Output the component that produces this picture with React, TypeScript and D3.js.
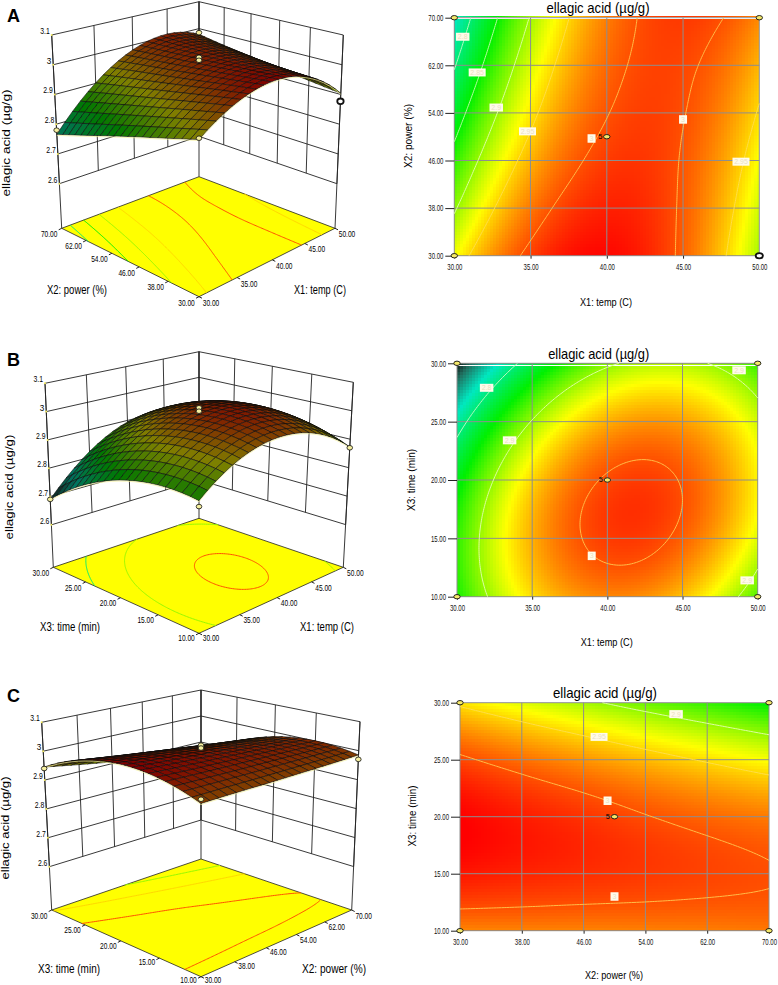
import React, {useEffect, useRef} from 'react';
import * as d3 from "d3";

const tempTicks = [30, 35, 40, 45, 50];
const powerTicks = [30, 38, 46, 54, 62, 70];
const timeTicks = [10, 15, 20, 25, 30];
const zTicks = [2.6, 2.7, 2.8, 2.9, 3, 3.1];

// response at the tick crossings, one row per y tick
const responseTempPower = [
    [2.931, 3.007, 3.028, 2.994, 2.904],
    [2.896, 2.985, 3.018, 2.996, 2.918],
    [2.863, 2.963, 3.008, 2.998, 2.932],
    [2.830, 2.942, 2.999, 3.001, 2.947],
    [2.797, 2.922, 2.991, 3.004, 2.962],
    [2.766, 2.902, 2.983, 3.009, 2.979],
];
const responseTempTime = [
    [2.856, 2.947, 2.980, 2.956, 2.873],
    [2.864, 2.965, 3.008, 2.993, 2.921],
    [2.839, 2.950, 3.003, 2.998, 2.935],
    [2.781, 2.902, 2.965, 2.970, 2.917],
    [2.690, 2.821, 2.894, 2.908, 2.865],
];
const responsePowerTime = [
    [2.980, 2.981, 2.981, 2.982, 2.983, 2.985],
    [3.022, 3.017, 3.013, 3.009, 3.005, 3.001],
    [3.030, 3.020, 3.011, 3.001, 2.992, 2.984],
    [3.004, 2.989, 2.975, 2.961, 2.947, 2.933],
    [2.945, 2.925, 2.906, 2.886, 2.867, 2.848],
];

const levelsA = [2.8, 2.85, 2.9, 2.95, 3];
const levelsB = [2.8, 2.9, 3];
const levelsC = [2.9, 2.95, 3];

// contour label boxes: text, x, y
const labelsA = [["2.8", 30.55, 66.8], ["2.85", 31.5, 60.8], ["2.9", 32.75, 54.9], ["2.95", 34.8, 50.9], ["3", 39, 49.7], ["3", 45, 52.9], ["2.95", 48.8, 45.8]];
const labelsB = [["2.8", 31.97, 27.9], ["2.9", 33.5, 23.4], ["3", 38.96, 13.5], ["2.9", 48.76, 29.4], ["2.9", 49.3, 11.4]];
const labelsC = [["2.9", 57.97, 29], ["2.95", 48, 27], ["3", 49.1, 21.4], ["3", 50, 13]];

// design points that show on the 3D views: x, y, response, bold
const pointsA = [[30, 70, 2.78], [50, 70, 2.985], [50, 30, 2.877, 1], [30, 30, 2.935], [40, 50, 3.025], [40, 50, 3.015]];
const pointsB = [[30, 30, 2.69], [50, 10, 2.87], [30, 10, 2.838], [40, 20, 3.012], [40, 20, 3.0]];
const pointsC = [[30, 30, 2.94], [70, 10, 2.97], [30, 10, 2.993], [50, 20, 3.02], [50, 20, 3.01]];

const colorValues = [2.69, 2.72, 2.77, 2.85, 2.935, 3.03];
const colorStops = ["#101010", "#207060", "#00e8c0", "#00f000", "#ffff00", "#ff0000"];

const narrow = '"Liberation Sans", Arial, sans-serif';
const regular = '"Liberation Sans", Arial, sans-serif';

const heat = d3.scaleLinear<string>().domain(colorValues).range(colorStops).clamp(true);

const panels = [
    {
        letter: "A", letterY: 22, xTicks: tempTicks, yTicks: powerTicks, grid: responseTempPower,
        levels: levelsA, labels: labelsA, points: pointsA, xName: "X1: temp (C)", yName: "X2: power (%)",
        floor: [[199, 296.7], [335, 228.3], [199, 176.7], [61.7, 228.3]],
        top: [[199, 84.3], [343.3, 35], [199, 1.7], [51.7, 35]],
        zLabel: [7, 143, 107], yNameAt: [77, 290, 60], xNameAt: [320, 290, 52], frontDy: 6,
        plot: {left: 454.3, right: 759.3, top: 17.7, bottom: 255.7},
        titleAt: [598, 8, 103], xNameFlat: [606, 302, 52], yNameFlat: [409, 136, 64], bold: [50, 30],
    },
    {
        letter: "B", letterY: 366, xTicks: tempTicks, yTicks: timeTicks, grid: responseTempTime,
        levels: levelsB, labels: labelsB, points: pointsB, xName: "X1: temp (C)", yName: "X3: time (min)",
        floor: [[199, 633.3], [343.3, 567.3], [199, 518.3], [53.3, 567.3]],
        top: [[199, 421], [353.3, 382.3], [199, 351.7], [45, 383.3]],
        zLabel: [10, 487, 105], yNameAt: [70, 627, 60], xNameAt: [327, 627, 54], frontDy: 5,
        plot: {left: 457, right: 757.7, top: 363.3, bottom: 596.7},
        titleAt: [598.7, 353.5, 101], xNameFlat: [606.7, 641.5, 52], yNameFlat: [412, 480, 62], bold: null,
    },
    {
        letter: "C", letterY: 702, xTicks: powerTicks, yTicks: timeTicks, grid: responsePowerTime,
        levels: levelsC, labels: labelsC, points: pointsC, xName: "X2: power (%)", yName: "X3: time (min)",
        floor: [[201, 976.7], [351.7, 910], [201, 859], [51.7, 910]],
        top: [[201, 764.3], [360, 721.7], [201, 690], [41.7, 722.3]],
        zLabel: [6, 828, 103], yNameAt: [69, 969, 62], xNameAt: [334, 969, 64], frontDy: 3.5,
        plot: {left: 460, right: 769, top: 702.7, bottom: 930.7},
        titleAt: [605, 693.3, 104], xNameFlat: [614, 975, 58], yNameFlat: [413, 816, 61], bold: null,
    },
];

// unit square -> quad, corners in order (0,0) (1,0) (1,1) (0,1)
function squareToQuad(q) {
    const [[x0, y0], [x1, y1], [x2, y2], [x3, y3]] = q;
    const dx1 = x1 - x2, dx2 = x3 - x2, sx = x0 - x1 + x2 - x3;
    const dy1 = y1 - y2, dy2 = y3 - y2, sy = y0 - y1 + y2 - y3;
    const den = dx1 * dy2 - dx2 * dy1;
    const g = (sx * dy2 - dx2 * sy) / den, h = (dx1 * sy - sx * dy1) / den;
    const a = x1 - x0 + g * x1, b = x3 - x0 + h * x3, d = y1 - y0 + g * y1, e = y3 - y0 + h * y3;
    return (u, v) => {
        const w = g * u + h * v + 1;
        return [(a * u + b * v + x0) / w, (d * u + e * v + y0) / w];
    };
}

// smooth resampling between the values read at the ticks, for drawing only
function catmull(vals, s) {
    const n = vals.length;
    const ext = [3 * vals[0] - 3 * vals[1] + vals[2], ...vals, 3 * vals[n - 1] - 3 * vals[n - 2] + vals[n - 3]];
    const i = Math.min(Math.floor(s), n - 2), t = s - i;
    const [p0, p1, p2, p3] = ext.slice(i, i + 4);
    return 0.5 * (2 * p1 + (p2 - p0) * t + (2 * p0 - 5 * p1 + 4 * p2 - p3) * t * t + (3 * p1 - p0 - 3 * p2 + p3) * t * t * t);
}

function surfaceAt(grid, u, v) {
    const col = grid.map(row => catmull(row, u * (row.length - 1)));
    return catmull(col, v * (grid.length - 1));
}

// open polylines of the contour lines, in 0..1 coordinates
function contourLines(grid, levels) {
    const n = 120;
    const values = [];
    for (let j = 0; j < n; j++) for (let i = 0; i < n; i++) values.push(surfaceAt(grid, i / (n - 1), j / (n - 1)));
    const out = [];
    d3.contours().size([n, n]).thresholds(levels)(values).forEach(c => {
        c.coordinates.forEach(poly => poly.forEach(ring => {
            const edge = p => p[0] <= 0 || p[0] >= n || p[1] <= 0 || p[1] >= n;
            let pts = ring.slice(0, -1);
            const k = pts.findIndex(edge);
            if (k >= 0) pts = [...pts.slice(k), ...pts.slice(0, k)];
            else pts = ring;
            let run = [];
            const flush = () => {
                if (run.length > 1) out.push({level: c.value, pts: run.map(p => [(p[0] - 0.5) / (n - 1), (p[1] - 0.5) / (n - 1)])});
                run = [];
            };
            pts.forEach(p => {
                if (edge(p)) flush();
                else run.push(p);
            });
            flush();
        }));
    });
    return out;
}

// squeezes text to the condensed width the reference uses
const fit = (sel, len) => sel.attr("textLength", len).attr("lengthAdjust", "spacingAndGlyphs");

function draw3D(svg, panel) {
    const g = svg.append("g");
    const floorAt = squareToQuad(panel.floor);
    const topAt = squareToQuad(panel.top);
    const zScale = d3.scaleLinear().domain([2.45, 3.1]).range([0, 1]);
    const proj = (u, v, z) => {
        const a = floorAt(u, v), b = topAt(u, v), h = zScale(z);
        return [a[0] + (b[0] - a[0]) * h, a[1] + (b[1] - a[1]) * h];
    };
    const line = d3.line();
    const xU = d3.scaleLinear().domain(d3.extent(panel.xTicks)).range([0, 1]);
    const yV = d3.scaleLinear().domain(d3.extent(panel.yTicks)).range([0, 1]);
    const wall = "#222";

    // floor
    g.append("path").attr("d", line(panel.floor) + "Z").attr("fill", "#ffff00").attr("stroke", wall).attr("stroke-width", 0.8);
    contourLines(panel.grid, panel.levels).forEach(c => {
        g.append("path").attr("d", line(c.pts.map(p => floorAt(p[0], p[1])))).attr("fill", "none")
            .attr("stroke", heat(c.level)).attr("stroke-width", 1);
    });

    // walls
    zTicks.forEach(z => {
        g.append("path").attr("d", line([proj(0, 1, z), proj(1, 1, z), proj(1, 0, z)])).attr("fill", "none").attr("stroke", wall).attr("stroke-width", 0.9);
    });
    panel.xTicks.forEach(x => {
        const u = xU(x);
        g.append("path").attr("d", line([proj(u, 1, 2.6), proj(u, 1, 3.1)])).attr("stroke", wall).attr("stroke-width", 0.9);
    });
    panel.yTicks.forEach(y => {
        const v = yV(y);
        g.append("path").attr("d", line([proj(1, v, 2.6), proj(1, v, 3.1)])).attr("stroke", wall).attr("stroke-width", 0.9);
    });
    [[0, 1], [1, 1], [1, 0]].forEach(([u, v]) => {
        g.append("path").attr("d", line([proj(u, v, 2.45), proj(u, v, 3.1)])).attr("stroke", wall).attr("stroke-width", 0.9);
    });

    // z ticks
    zTicks.forEach(z => {
        const [x, y] = proj(0, 1, z);
        g.append("circle").attr("cx", x).attr("cy", y).attr("r", 1).attr("fill", "#f6ee60");
        const label = d3.format("~g")(z);
        const t = g.append("text").attr("x", x - 2).attr("y", y - 1).attr("text-anchor", "end")
            .style("font", `9.5px ${narrow}`).text(label);
        fit(t, label.length === 1 ? 4.5 : 9.5);
    });

    // floor ticks and labels
    const tickFmt = d3.format(".2f");
    const labelY = (y0) => {
        const [, sideY] = panel.floor[1];
        const [, frontY] = panel.floor[0];
        return y0 + 3 + 6 + (panel.frontDy - 6) * (y0 - sideY) / (frontY - sideY);
    };
    panel.yTicks.forEach(y => {
        const [x0, y0] = floorAt(0, yV(y));
        g.append("line").attr("x1", x0).attr("y1", y0).attr("x2", x0 - 3).attr("y2", y0 + 1.5).attr("stroke", "#222");
        fit(g.append("text").attr("x", x0 - 12.5).attr("y", labelY(y0)).attr("text-anchor", "middle")
            .style("font", `9.5px ${narrow}`).text(tickFmt(y)), 16.5);
    });
    panel.xTicks.forEach(x => {
        const [x0, y0] = floorAt(xU(x), 0);
        g.append("line").attr("x1", x0).attr("y1", y0).attr("x2", x0 + 3).attr("y2", y0 + 1.5).attr("stroke", "#222");
        fit(g.append("text").attr("x", x0 + 12).attr("y", labelY(y0)).attr("text-anchor", "middle")
            .style("font", `9.5px ${narrow}`).text(tickFmt(x)), 16.5);
    });

    // surface, painted from the back corner forward
    const mesh = 20;
    const cells = [];
    d3.range(mesh).forEach(i => d3.range(mesh).forEach(j => cells.push([i, j])));
    cells.sort((a, b) => (b[0] + b[1]) - (a[0] + a[1]));
    cells.forEach(([i, j]) => {
        const corners = [[i, j], [i + 1, j], [i + 1, j + 1], [i, j + 1]].map(([a, b]) => {
            const z = surfaceAt(panel.grid, a / mesh, b / mesh);
            return {z, p: proj(a / mesh, b / mesh, z)};
        });
        const c = d3.rgb(heat(d3.mean(corners, d => d.z)));
        g.append("path").attr("d", line(corners.map(d => d.p)) + "Z")
            .attr("fill", d3.rgb(c.r * 0.5, c.g * 0.5, c.b * 0.5).formatHex())
            .attr("stroke", "#0c0c0c").attr("stroke-width", 0.6);
    });

    // pale underside edges
    const edgeA = d3.range(mesh + 1).map(i => proj(i / mesh, 0, surfaceAt(panel.grid, i / mesh, 0)));
    const edgeB = d3.range(mesh + 1).map(i => proj(0, i / mesh, surfaceAt(panel.grid, 0, i / mesh)));
    [edgeA, edgeB].forEach(e => {
        g.append("path").attr("d", line(e)).attr("fill", "none").attr("stroke", "#f4ef9a").attr("stroke-width", 1)
            .attr("stroke-opacity", 0.7).attr("transform", "translate(0,1)");
    });

    // design points
    panel.points.forEach(([x, y, z, bold]) => {
        const [px, py] = proj(xU(x), yV(y), z);
        g.append("ellipse").attr("cx", px).attr("cy", py).attr("rx", bold ? 3.2 : 2.8).attr("ry", bold ? 2.8 : 2.3)
            .attr("fill", bold ? "#fff" : "#f6f0a0").attr("stroke", "#111").attr("stroke-width", bold ? 1.8 : 0.8);
    });

    // names
    g.append("text").attr("x", 7).attr("y", panel.letterY).style("font", `bold 18px ${regular}`).text(panel.letter);
    const [zx, zy, zLen] = panel.zLabel;
    fit(g.append("text").attr("transform", `translate(${zx + 3},${zy}) rotate(-90)`).attr("text-anchor", "middle")
        .style("font", `10px ${regular}`).text("ellagic acid (µg/g)"), zLen);
    [[panel.yName, panel.yNameAt], [panel.xName, panel.xNameAt]].forEach(([name, at]) => {
        fit(g.append("text").attr("x", at[0]).attr("y", at[1] + 4).attr("text-anchor", "middle")
            .style("font", `12.5px ${narrow}`).text(name), at[2]);
    });
}

function draw2D(svg, panel) {
    const g = svg.append("g");
    const {left, right, top, bottom} = panel.plot;
    const x = d3.scaleLinear().domain(d3.extent(panel.xTicks)).range([left, right]);
    const y = d3.scaleLinear().domain(d3.extent(panel.yTicks)).range([bottom, top]);

    // heat map
    const cell = 3;
    const nx = Math.ceil((right - left) / cell), ny = Math.ceil((bottom - top) / cell);
    d3.range(ny).forEach(j => d3.range(nx).forEach(i => {
        const u = (i + 0.5) / nx, v = (j + 0.5) / ny;
        g.append("rect").attr("x", left + i * cell).attr("y", bottom - (j + 1) * cell)
            .attr("width", Math.min(cell + 0.5, right - left - i * cell)).attr("height", Math.min(cell + 0.5, bottom - top - j * cell))
            .attr("fill", heat(surfaceAt(panel.grid, u, v))).attr("shape-rendering", "crispEdges");
    }));

    // grid
    panel.xTicks.forEach(t => {
        g.append("line").attr("x1", x(t)).attr("x2", x(t)).attr("y1", top).attr("y2", bottom).attr("stroke", "#8e8e8e").attr("stroke-width", 1);
    });
    panel.yTicks.forEach(t => {
        g.append("line").attr("x1", left).attr("x2", right).attr("y1", y(t)).attr("y2", y(t)).attr("stroke", "#8e8e8e").attr("stroke-width", 1);
    });

    // contours
    const line = d3.line();
    contourLines(panel.grid, panel.levels).forEach(c => {
        const tint = c.level >= 2.95 ? "#ffe060" : "#f4ffd8";
        g.append("path").attr("d", line(c.pts.map(p => [left + p[0] * (right - left), bottom - p[1] * (bottom - top)])))
            .attr("fill", "none").attr("stroke", d3.interpolateRgb(heat(c.level), tint)(0.75)).attr("stroke-width", 1);
    });

    // contour label boxes
    panel.labels.forEach(([text, lx, ly]) => {
        const w = text.length === 1 ? 8 : text.length === 3 ? 13.5 : 17;
        const h = text.length === 1 ? 8.5 : 8;
        g.append("rect").attr("x", x(lx) - w / 2).attr("y", y(ly) - h / 2).attr("width", w).attr("height", h).attr("fill", "#fffbea");
        g.append("text").attr("x", x(lx)).attr("y", y(ly) + 2.5).attr("text-anchor", "middle")
            .attr("fill", "#eadfc0").style("font", `7px ${narrow}`).text(text);
    });

    // axes
    const fmt = d3.format(".2f");
    const yAxis = g.append("g").attr("transform", `translate(${left},0)`)
        .call(d3.axisLeft(y).tickValues(panel.yTicks).tickFormat(fmt).tickSize(9).tickPadding(2));
    const xAxis = g.append("g").attr("transform", `translate(0,${bottom})`)
        .call(d3.axisBottom(x).tickValues(panel.xTicks).tickFormat(fmt).tickSize(3).tickPadding(5));
    [yAxis, xAxis].forEach(a => {
        a.select(".domain").remove();
        a.selectAll("text").style("font", `8.5px ${narrow}`).attr("fill", "#111")
            .attr("textLength", 15).attr("lengthAdjust", "spacingAndGlyphs");
        a.selectAll("line").attr("stroke", "#222");
    });

    // design point markers
    const xs = d3.extent(panel.xTicks), ys = d3.extent(panel.yTicks);
    const corners = [[xs[0], ys[0]], [xs[0], ys[1]], [xs[1], ys[0]], [xs[1], ys[1]], [d3.mean(xs), d3.mean(ys)]];
    corners.forEach(([cx, cy]) => {
        const bold = panel.bold && panel.bold[0] === cx && panel.bold[1] === cy;
        g.append("ellipse").attr("cx", x(cx)).attr("cy", y(cy)).attr("rx", bold ? 3.6 : 3.2).attr("ry", bold ? 2.6 : 2.2)
            .attr("fill", bold ? "#fff" : "#f4e86a").attr("stroke", "#111").attr("stroke-width", bold ? 1.8 : 0.9);
    });
    g.append("text").attr("x", x(d3.mean(xs)) - 4.5).attr("y", y(d3.mean(ys)) + 2).attr("text-anchor", "end")
        .style("font", `7.5px ${regular}`).text("5");

    // names
    fit(g.append("text").attr("x", panel.titleAt[0]).attr("y", panel.titleAt[1] + 5).attr("text-anchor", "middle")
        .style("font", `14.5px ${regular}`).text("ellagic acid (µg/g)"), panel.titleAt[2]);
    fit(g.append("text").attr("x", panel.xNameFlat[0]).attr("y", panel.xNameFlat[1] + 4).attr("text-anchor", "middle")
        .style("font", `10.5px ${regular}`).text(panel.xName), panel.xNameFlat[2]);
    fit(g.append("text").attr("transform", `translate(${panel.yNameFlat[0] + 3},${panel.yNameFlat[1]}) rotate(-90)`).attr("text-anchor", "middle")
        .style("font", `10.5px ${regular}`).text(panel.yName), panel.yNameFlat[2]);
}

export default function App() {
    const svgRef = useRef(null);
    useEffect(() => {
        const svg = d3.select(svgRef.current);
        svg.selectAll("*").remove();
        panels.forEach(panel => {
            draw3D(svg, panel);
            draw2D(svg, panel);
        });
    }, []);
    return <svg ref={svgRef} width={778} height={985} style={{position: "absolute", left: 0, top: 0, background: "#fff"}}/>;
}
